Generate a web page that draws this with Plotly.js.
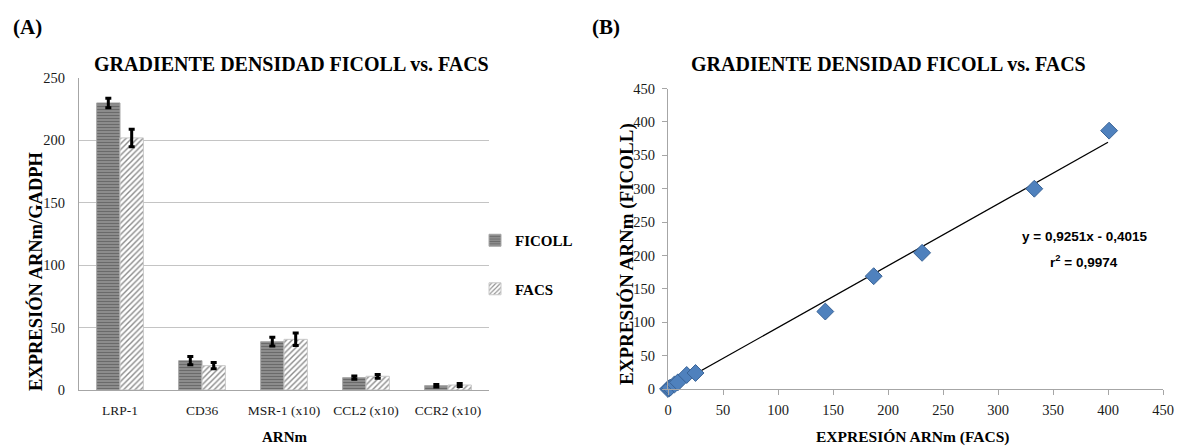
<!DOCTYPE html>
<html>
<head>
<meta charset="utf-8">
<script src="https://cdn.plot.ly/plotly-3.0.1.min.js"></script>
<style>
html,body{margin:0;padding:0;background:#fff;}
#chart{width:1182px;height:448px;}
</style>
</head>
<body>
<div id="chart"></div>
<script>
// ---- Panel A data ----
const categories = ['LRP-1', 'CD36', 'MSR-1 (x10)', 'CCL2 (x10)', 'CCR2 (x10)'];
const ficollVals = [230, 23.5, 38.7, 9.9, 3.5];
const ficollErr = [3.8, 3.3, 3.5, 1.3, 1.0];
const facsVals = [202, 19.5, 40.6, 11, 4];
const facsErr = [7, 2.5, 5, 1.5, 1.2];
const yTicksA = [0, 50, 100, 150, 200, 250];

// ---- Panel B data ----
const facsX = [0, 1, 2, 6, 9, 17, 25, 143, 187, 231, 333, 401];
const ficollY = [0, 1, 2, 7, 10, 21, 24, 116, 169, 204, 300, 387];
const trendX = [0, 400];
const trendY = [-0.40, 369.64];
const ticksB = [0, 50, 100, 150, 200, 250, 300, 350, 400, 450];

const W = 1182, H = 448;
const px = x => x / W;
const py = y => 1 - y / H;

const serif = 'Liberation Serif, Times New Roman, serif';
const sans = 'Liberation Sans, Arial, sans-serif';
const tickFont = {family: serif, size: 14.5, color: '#1a1a1a'};

function note(text, x, y, size, extra) {
  return Object.assign({
    text: text, x: px(x), y: py(y), xref: 'paper', yref: 'paper',
    xanchor: 'center', yanchor: 'middle', showarrow: false,
    font: {family: serif, size: size, color: '#000'}
  }, extra || {});
}

const traces = [
  {
    type: 'bar', name: 'FICOLL', x: categories, y: ficollVals,
    xaxis: 'x', yaxis: 'y', legendgroup: 'a',
    marker: {
      color: '#858585',
      line: {color: '#a8a8a8', width: 1},
      pattern: {shape: '-', fgcolor: '#6a6a6a', bgcolor: '#8c8c8c', size: 3, solidity: 0.35, fillmode: 'replace'}
    },
    error_y: {type: 'data', array: ficollErr, visible: true, color: '#000', thickness: 3, width: 3}
  },
  {
    type: 'bar', name: 'FACS', x: categories, y: facsVals,
    xaxis: 'x', yaxis: 'y', legendgroup: 'b',
    marker: {
      color: '#ffffff',
      line: {color: '#c8c8c8', width: 1},
      pattern: {shape: '/', fgcolor: '#8a8a8a', bgcolor: '#ffffff', size: 4, solidity: 0.35, fillmode: 'replace'}
    },
    error_y: {type: 'data', array: facsErr, visible: true, color: '#000', thickness: 3, width: 3}
  },
  {
    type: 'scatter', mode: 'lines', x: trendX, y: trendY,
    xaxis: 'x2', yaxis: 'y2', showlegend: false,
    line: {color: '#000', width: 1.3}, hoverinfo: 'skip'
  },
  {
    type: 'scatter', mode: 'markers', x: facsX, y: ficollY,
    xaxis: 'x2', yaxis: 'y2', showlegend: false, cliponaxis: false,
    marker: {symbol: 'diamond', size: 13, color: '#4F81BD', line: {color: '#3A6497', width: 1}}
  }
];

const layout = {
  width: W, height: H,
  margin: {l: 0, r: 0, t: 0, b: 0},
  paper_bgcolor: '#fff', plot_bgcolor: '#fff',
  font: {family: serif, color: '#000'},
  barmode: 'group', bargap: 0.43, bargroupgap: 0,
  showlegend: true,
  legend: {
    x: px(475), y: py(224), xanchor: 'left', yanchor: 'top',
    font: {family: serif, size: 15, color: '#000', weight: 'bold'},
    tracegroupgap: 26, bgcolor: 'rgba(0,0,0,0)'
  },
  xaxis: {
    domain: [px(79), px(489)], anchor: 'y',
    type: 'category', showline: true, linecolor: '#a6a6a6', linewidth: 1,
    ticks: '', tickfont: {family: serif, size: 13.5, color: '#1a1a1a'},
    ticklabelstandoff: 8, showgrid: false, zeroline: false
  },
  yaxis: {
    domain: [py(390), py(78)], anchor: 'x',
    range: [0, 250], tickvals: yTicksA,
    showline: true, linecolor: '#a6a6a6', linewidth: 1,
    showgrid: true, gridcolor: '#c4c4c4', gridwidth: 1, zeroline: false,
    ticks: '', tickfont: tickFont, ticklabelstandoff: 10
  },
  xaxis2: {
    domain: [px(668), px(1163)], anchor: 'y2',
    range: [0, 450], tickvals: ticksB,
    showline: true, linecolor: '#a6a6a6', linewidth: 1,
    ticks: 'outside', ticklen: 5, tickcolor: '#a6a6a6',
    showgrid: false, zeroline: false, tickfont: tickFont, ticklabelstandoff: 3
  },
  yaxis2: {
    domain: [py(389), py(88.6)], anchor: 'x2',
    range: [0, 450], tickvals: ticksB,
    showline: true, linecolor: '#a6a6a6', linewidth: 1,
    ticks: 'outside', ticklen: 5, tickcolor: '#a6a6a6',
    showgrid: false, zeroline: false, tickfont: tickFont, ticklabelstandoff: 4
  },
  annotations: [
    note('<b>(A)</b>', 27, 27, 21),
    note('<b>(B)</b>', 606, 27, 21),
    note('<b>GRADIENTE DENSIDAD FICOLL vs. FACS</b>', 291, 64, 20),
    note('<b>GRADIENTE DENSIDAD FICOLL vs. FACS</b>', 888, 64, 20),
    note('<b>EXPRESIÓN ARNm/GADPH</b>', 35, 271, 18.5, {textangle: -90}),
    note('<b>ARNm</b>', 284, 437, 15),
    note('<b>EXPRESIÓN ARNm (FICOLL)</b>', 627, 254, 19, {textangle: -90}),
    note('<b>EXPRESIÓN ARNm (FACS)</b>', 912, 437, 15.5),
    note('<b>y = 0,9251x - 0,4015</b>', 1084, 237, 13.5, {font: {family: sans, size: 13.5, color: '#000'}}),
    note('<b>r<sup>2</sup> = 0,9974</b>', 1084, 261, 13.5, {font: {family: sans, size: 13.5, color: '#000'}})
  ]
};

Plotly.newPlot('chart', traces, layout, {displayModeBar: false, staticPlot: true});
</script>
</body>
</html>
